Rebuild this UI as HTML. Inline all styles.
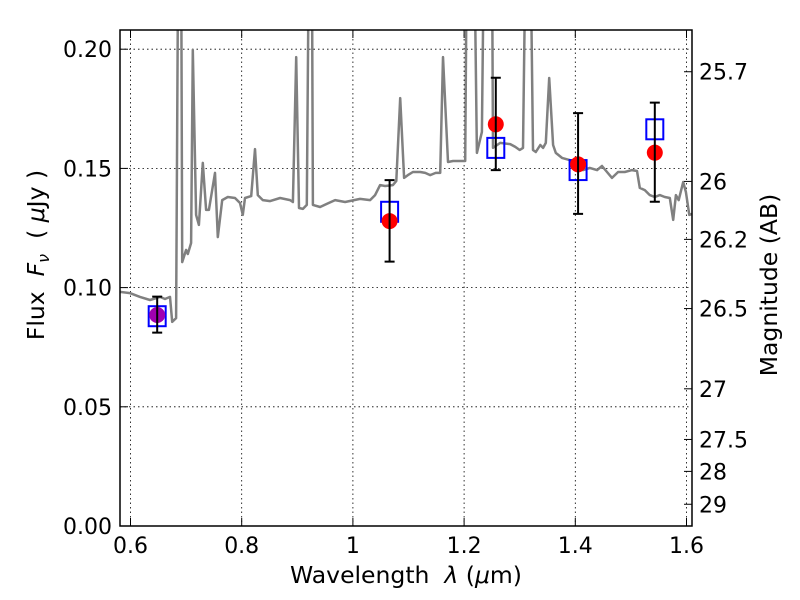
<!DOCTYPE html>
<html><head><meta charset="utf-8"><style>
html,body{margin:0;padding:0;background:#fff;}
svg{display:block;font-family:"DejaVu Sans","Liberation Sans",sans-serif;}
</style></head><body>
<svg id="chart" width="800" height="600" viewBox="0 0 800 600" xmlns="http://www.w3.org/2000/svg">
<defs><clipPath id="plotclip"><rect x="120" y="30" width="572" height="496"/></clipPath></defs>
<rect x="0" y="0" width="800" height="600" fill="#fff"/>
<g id="grid"></g>
<g id="spec" clip-path="url(#plotclip)"></g>
<g id="pts"></g>
<rect x="120" y="30" width="572" height="496" fill="none" stroke="#000" stroke-width="1.5"/>
<g id="axes"></g>
<text x="406" y="583" font-size="23.5" text-anchor="middle">Wavelength&#160;&#160;<tspan font-style="italic">λ</tspan> (<tspan font-style="italic">μ</tspan>m)</text>
<text transform="translate(44,255) rotate(-90)" font-size="23.5" text-anchor="middle">Flux&#160;&#160;<tspan font-style="italic">F</tspan><tspan font-style="italic" font-size="16" dy="5">ν</tspan><tspan dy="-5">&#160;&#160;( </tspan><tspan font-style="italic">μ</tspan>Jy )</text>
<text transform="translate(777,285) rotate(-90)" font-size="23.5" text-anchor="middle">Magnitude (AB)</text>
</svg>
<script>
const specLam = [0.581,0.599,0.617,0.635,0.653,0.662,0.671,0.675,0.682,0.686,0.691,0.693,0.700,0.703,0.709,0.712,0.718,0.723,0.730,0.736,0.741,0.752,0.757,0.765,0.775,0.788,0.797,0.802,0.806,0.817,0.824,0.829,0.838,0.851,0.869,0.887,0.892,0.898,0.903,0.910,0.917,0.921,0.926,0.928,0.941,0.953,0.968,0.986,1.013,1.031,1.040,1.049,1.058,1.072,1.078,1.085,1.092,1.099,1.108,1.121,1.130,1.139,1.149,1.157,1.162,1.171,1.180,1.202,1.205,1.218,1.223,1.232,1.236,1.243,1.250,1.252,1.265,1.283,1.292,1.300,1.306,1.311,1.319,1.324,1.329,1.337,1.342,1.347,1.353,1.360,1.365,1.376,1.390,1.399,1.414,1.426,1.439,1.448,1.457,1.466,1.477,1.489,1.502,1.511,1.516,1.525,1.534,1.543,1.552,1.561,1.570,1.576,1.581,1.586,1.594,1.599,1.605,1.610];
const specFlux = [0.0982,0.0977,0.0961,0.0948,0.0961,0.0952,0.0961,0.0856,0.0872,0.25,0.25,0.1107,0.1158,0.1141,0.1187,0.1997,0.1305,0.1263,0.1523,0.1326,0.1326,0.1481,0.1212,0.1367,0.1380,0.1376,0.1355,0.1305,0.1376,0.1384,0.1581,0.1388,0.1367,0.1363,0.1376,0.1367,0.1359,0.1967,0.1334,0.1330,0.1347,0.25,0.25,0.1347,0.1338,0.1351,0.1367,0.1359,0.1372,0.1367,0.1388,0.1430,0.1426,0.1430,0.1447,0.1795,0.1460,0.1472,0.1485,0.1485,0.1481,0.1472,0.1481,0.1481,0.1967,0.1527,0.1531,0.1531,0.25,0.25,0.1565,0.1653,0.25,0.25,0.25,0.1586,0.1607,0.1602,0.1590,0.1577,0.1586,0.25,0.25,0.1577,0.1569,0.1598,0.1586,0.1607,0.1879,0.1598,0.1565,0.1544,0.1535,0.1506,0.1493,0.1502,0.1493,0.1510,0.1485,0.1460,0.1485,0.1485,0.1493,0.1489,0.1418,0.1409,0.1388,0.1380,0.1388,0.1380,0.1376,0.1284,0.1388,0.1367,0.1443,0.1401,0.1305,0.1309];
const bandLam = [0.648,1.066,1.257,1.405,1.543];
const obsFlux = [0.0885,0.1279,0.1685,0.1517,0.1566];
const errLow = [0.0811,0.1109,0.1493,0.1309,0.1360];
const errHigh = [0.0962,0.1451,0.1880,0.1732,0.1776];
const modelFlux = [0.0880,0.1318,0.1586,0.1493,0.1664];
const xTicks = [0.6,0.8,1.0,1.2,1.4,1.6];
const xTickLabels = ["0.6","0.8","1","1.2","1.4","1.6"];
const yTicks = [0,0.05,0.10,0.15,0.20];
const yTickLabels = ["0.00","0.05","0.10","0.15","0.20"];
const magTicks = [25.7,26,26.2,26.5,27,27.5,28,29];
const magTickLabels = ["25.7","26","26.2","26.5","27","27.5","28","29"];

const NS="http://www.w3.org/2000/svg";
const X = v => 130.5 + (v-0.6)*556;
const Y = v => 526 - v*2384;
const magToFlux = m => Math.pow(10,(23.9-m)/2.5);
function mk(tag, attrs, parent){const e=document.createElementNS(NS,tag);for(const k in attrs)e.setAttribute(k,attrs[k]);parent.appendChild(e);return e;}
const grid=document.getElementById('grid'), axes=document.getElementById('axes');
xTicks.forEach((t,i)=>{
  const g=mk('line',{x1:X(t),x2:X(t),y1:30,y2:526,stroke:'#000','stroke-width':0.8,'stroke-dasharray':'1.5,3'},grid);
  
  
  mk('line',{x1:X(t),x2:X(t),y1:526,y2:518,stroke:'#000','stroke-width':1},axes);
  mk('line',{x1:X(t),x2:X(t),y1:30,y2:38,stroke:'#000','stroke-width':1},axes);
  const tx=mk('text',{x:X(t),y:553,'font-size':22,'text-anchor':'middle'},axes);
  tx.textContent=xTickLabels[i];
  
  
});
yTicks.forEach((t,i)=>{
  const g=mk('line',{x1:120,x2:692,y1:Y(t),y2:Y(t),stroke:'#000','stroke-width':0.8,'stroke-dasharray':'1.5,3'},grid);
  
  
  mk('line',{x1:120,x2:128,y1:Y(t),y2:Y(t),stroke:'#000','stroke-width':1},axes);
  const tx=mk('text',{x:112,y:Y(t)+8,'font-size':22,'text-anchor':'end'},axes);
  tx.textContent=yTickLabels[i];
  
  
});
magTicks.forEach((m,i)=>{
  const y=Y(magToFlux(m));
  mk('line',{x1:684,x2:692,y1:y,y2:y,stroke:'#000','stroke-width':1},axes);
  const tx=mk('text',{x:699,y:y+8,'font-size':22},axes);
  tx.textContent=magTickLabels[i];
  
  
});
const spec=document.getElementById('spec');
let d='';
specLam.forEach((l,i)=>{d+=(i?'L':'M')+X(l).toFixed(1)+','+Y(specFlux[i]).toFixed(1);});
const sp=mk('path',{d:d,fill:'none',stroke:'#808080','stroke-width':2.5,'stroke-linejoin':'round'},spec);


const pts=document.getElementById('pts');
bandLam.forEach((l,i)=>{
  const x=X(l);
  const sq=mk('rect',{x:x-8.5,y:Y(modelFlux[i])-10,width:17,height:20,fill:'none',stroke:'#0000ff','stroke-width':2},pts);
  
  
  const c=mk('circle',{cx:x,cy:Y(obsFlux[i]),r:8,fill:i===0?'#a000b0':'#ff0000'},pts);
  
  
  const e=mk('path',{d:`M${x},${Y(errLow[i])}L${x},${Y(errHigh[i])}M${x-5},${Y(errLow[i])}L${x+5},${Y(errLow[i])}M${x-5},${Y(errHigh[i])}L${x+5},${Y(errHigh[i])}`,stroke:'#000','stroke-width':2,fill:'none'},pts);
  
  
});
</script>
</body></html>
